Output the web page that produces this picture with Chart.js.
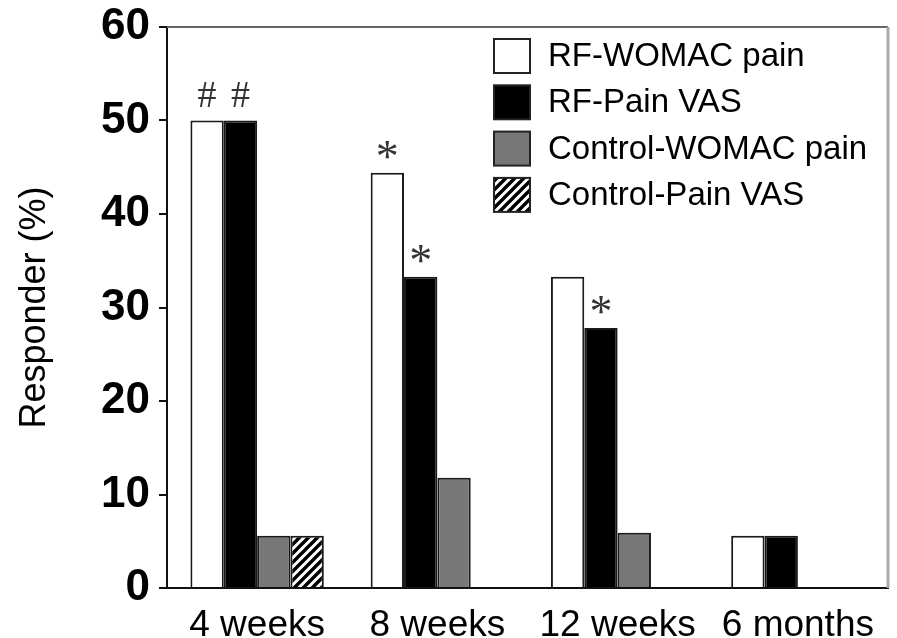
<!DOCTYPE html>
<html>
<head>
<meta charset="utf-8">
<script src="https://cdn.jsdelivr.net/npm/chart.js@4.4.1/dist/chart.umd.min.js"></script>
<style>
  html, body { margin: 0; padding: 0; background: #fff; }
  canvas { display: block; }
</style>
</head>
<body>
<canvas id="chart" width="897" height="638"></canvas>
<script>
// Responder rates (%) per follow-up visit
const categories = ['4 weeks', '8 weeks', '12 weeks', '6 months'];
const seriesNames = ['RF-WOMAC pain', 'RF-Pain VAS', 'Control-WOMAC pain', 'Control-Pain VAS'];
const rfWomac   = [50, 44.4, 33.3, 5.6];
const rfVas     = [50, 33.3, 27.8, 5.6];
const ctrlWomac = [5.6, 11.8, 5.9, 0];
const ctrlVas   = [5.6, 0, 0, 0];
const yTicks = [0, 10, 20, 30, 40, 50, 60];
// significance symbols: [series index, category index, symbol]
const marks = [[0, 0, '#'], [1, 0, '#'], [0, 1, '*'], [1, 1, '*'], [1, 2, '*']];

const SANS = '"Liberation Sans", Arial, sans-serif';
const SERIF = '"Liberation Serif", "DejaVu Serif", serif';

function hatchPattern(ctx) {
  const s = 9;
  const p = document.createElement('canvas');
  p.width = s; p.height = s;
  const g = p.getContext('2d');
  g.fillStyle = '#fff';
  g.fillRect(0, 0, s, s);
  g.strokeStyle = '#000';
  g.lineWidth = 3.4;
  g.beginPath();
  g.moveTo(0, s); g.lineTo(s, 0);
  g.moveTo(-s, s); g.lineTo(s, -s);
  g.moveTo(0, 2 * s); g.lineTo(2 * s, 0);
  g.stroke();
  return ctx.createPattern(p, 'repeat');
}

const canvas = document.getElementById('chart');
const ctx = canvas.getContext('2d');
const hatch = hatchPattern(ctx);
const fills = ['#ffffff', '#000000', '#777777', hatch];
const seriesData = [rfWomac, rfVas, ctrlWomac, ctrlVas];

// frame on the top and right of the plot
const framePlugin = {
  id: 'frame',
  afterDraw(chart) {
    const { ctx, chartArea: a } = chart;
    ctx.save();
    ctx.strokeStyle = '#666';
    ctx.lineWidth = 2;
    ctx.beginPath();
    ctx.moveTo(a.left, a.top);
    ctx.lineTo(a.right, a.top);
    ctx.stroke();
    ctx.strokeStyle = '#aaa';
    ctx.lineWidth = 3;
    ctx.beginPath();
    ctx.moveTo(a.right, a.top);
    ctx.lineTo(a.right, a.bottom);
    ctx.stroke();
    ctx.restore();
  }
};

// boxed legend in the upper right of the plot
const legendPlugin = {
  id: 'boxLegend',
  afterDraw(chart) {
    const { ctx, chartArea: a } = chart;
    const x0 = a.left + 327;
    const y0 = a.top + 29;
    const step = 46.3;
    ctx.save();
    chart.data.datasets.forEach((ds, i) => {
      const cy = y0 + i * step;
      ctx.fillStyle = ds.backgroundColor;
      ctx.fillRect(x0, cy - 17, 36, 34);
      ctx.strokeStyle = '#222';
      ctx.lineWidth = 2;
      ctx.strokeRect(x0, cy - 17, 36, 34);
      ctx.fillStyle = '#000';
      ctx.font = '33px ' + SANS;
      ctx.textAlign = 'left';
      ctx.textBaseline = 'middle';
      ctx.fillText(ds.label, x0 + 54, cy + 1);
    });
    ctx.restore();
  }
};

// significance symbols above bars
const marksPlugin = {
  id: 'sigMarks',
  afterDatasetsDraw(chart) {
    const { ctx } = chart;
    ctx.save();
    ctx.fillStyle = '#333';
    ctx.textAlign = 'center';
    ctx.textBaseline = 'alphabetic';
    marks.forEach(([s, c, sym]) => {
      const el = chart.getDatasetMeta(s).data[c];
      if (sym === '#') {
        ctx.font = '38px ' + SERIF;
        ctx.fillText(sym, el.x, el.y - 14);
      } else {
        ctx.font = '46px ' + SERIF;
        ctx.fillText(sym, el.x, el.y - 1);
      }
    });
    ctx.restore();
  }
};

new Chart(ctx, {
  type: 'bar',
  data: {
    labels: categories,
    datasets: seriesData.map((d, i) => ({
      label: seriesNames[i],
      data: d,
      backgroundColor: fills[i],
      borderColor: '#1a1a1a',
      borderWidth: 2,
      categoryPercentage: 0.74,
      barPercentage: 1.0
    }))
  },
  options: {
    responsive: false,
    devicePixelRatio: 1,
    animation: false,
    layout: { autoPadding: false, padding: { top: 27, right: 9, bottom: 0, left: 0 } },
    plugins: { legend: { display: false }, tooltip: { enabled: false } },
    scales: {
      x: {
        grid: { display: false },
        border: { display: true, color: '#111', width: 2 },
        ticks: { color: '#000', font: { family: SANS, size: 37 }, padding: 8, maxRotation: 0, autoSkip: false },
        afterFit(scale) {
          scale.height = 50;
          scale.paddingLeft = 0; scale.paddingRight = 0;
        }
      },
      y: {
        min: 0,
        max: 60,
        afterBuildTicks(scale) { scale.ticks = yTicks.map(v => ({ value: v })); },
        ticks: { color: '#000', font: { family: SANS, size: 44, weight: 'bold' }, padding: 9 },
        grid: { drawOnChartArea: false, drawTicks: true, tickLength: 8, color: '#111', lineWidth: 2 },
        border: { display: true, color: '#111', width: 2 },
        title: {
          display: true,
          text: 'Responder (%)',
          color: '#000',
          font: { family: SANS, size: 36 },
          padding: { top: 13, bottom: 0 }
        },
        afterFit(scale) {
          scale.width = 167;
          scale.paddingTop = 0; scale.paddingBottom = 0;
        }
      }
    }
  },
  plugins: [framePlugin, legendPlugin, marksPlugin]
});
</script>
</body>
</html>
